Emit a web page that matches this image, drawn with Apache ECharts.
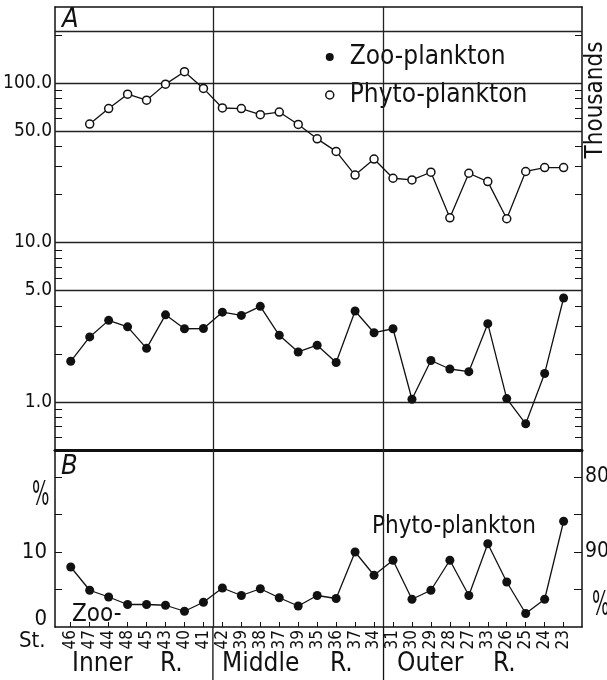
<!DOCTYPE html>
<html>
<head>
<meta charset="utf-8">
<script src="https://cdn.jsdelivr.net/npm/echarts@6/dist/echarts.min.js"></script>
<style>html,body{margin:0;padding:0;background:#fff}#c{width:607px;height:680px}</style>
</head>
<body>
<div id="c"></div>
<script>
// ---- data ----
const stations = ["46","47","44","48","45","43","40","41","42","39","38","37","39","35","36","37","34","31","30","29","28","27","33","26","25","24","23"];
const phytoThousands = [null,55.3,69.2,85.2,78.1,98.5,117.9,92.6,69.8,69.2,63.4,65.8,55.0,44.7,37.3,26.5,33.4,25.3,24.7,27.6,14.3,27.2,24.1,14.1,27.9,29.5,29.5];
const zooThousands = [1.80,2.56,3.25,2.96,2.17,3.52,2.88,2.89,3.66,3.49,3.98,2.62,2.06,2.27,1.77,3.72,2.72,2.88,1.04,1.82,1.61,1.55,3.10,1.05,0.73,1.51,4.49];
const zooPercent = [8.0,4.9,4.0,3.0,3.0,2.9,2.1,3.3,5.2,4.2,5.1,3.9,2.8,4.2,3.8,10.0,6.9,8.9,3.7,4.9,8.9,4.2,11.1,6.0,1.8,3.7,14.1];
const logTickLabels = [1,5,10,50,100];
const logTicks = [0.6,0.7,0.8,0.9,1,2,3,4,5,6,7,8,9,10,20,30,40,50,60,70,80,90,100,200];
const logGridLines = [1,5,10,50,100,210];
const pctTicks = [5,10,15,20];
const pctLabels = [0,10];
const phytoPctTicks = [80,85,90,95];
const phytoPctLabels = [80,90];
const regionBreaks = [7.5,16.5];
const regions = [["Inner",72,"R.",160],["Middle",222,"R.",330],["Outer",397,"R.",493]];

const FONT = '"DejaVu Sans Condensed","Liberation Sans Narrow",sans-serif';
const K = '#111';
const idx = stations.map((s,i)=>i);
const pairs = arr => arr.map((v,i)=>[i,v]);
const XMIN = -0.83, XMAX = 26.97;

const chart = echarts.init(document.getElementById('c'), null, {renderer:'canvas'});
const baseX = (grid, extra) => Object.assign({
  type:'value', gridIndex:grid, min:XMIN, max:XMAX,
  axisLabel:{show:false}, axisTick:{show:false}, splitLine:{show:false},
  axisLine:{show:true, onZero:false, lineStyle:{color:K, width:1.5}}
}, extra);
const yLine = {show:true, onZero:false, lineStyle:{color:K,width:1.5}};

const option = {
  animation:false,
  backgroundColor:'#fff',
  grid:[
    {left:55, right:25, top:7, height:443, outerBoundsMode:'none', containLabel:false},
    {left:55, right:25, top:450, height:177, outerBoundsMode:'none', containLabel:false}
  ],
  xAxis:[
    baseX(0,{position:'top'}),
    baseX(0,{position:'bottom', axisLine:{show:true, onZero:false, lineStyle:{color:K,width:3}}}),
    baseX(1,{position:'bottom',
      axisTick:{show:true, inside:true, length:5, customValues:idx, lineStyle:{color:K,width:1}},
      axisLabel:{show:true, customValues:idx, rotate:90, margin:3, color:K, fontFamily:FONT, fontSize:17,
        formatter:v=>stations[Math.round(v)]}})
  ],
  yAxis:[
    {type:'log', gridIndex:0, position:'left', min:0.5, max:300, logBase:10,
      axisLine:yLine,
      axisTick:{show:true, inside:true, length:7, customValues:logTicks, lineStyle:{color:K}},
      axisLabel:{customValues:logTickLabels, margin:3, color:K, fontFamily:FONT, fontSize:19, formatter:v=>Number(v).toFixed(1)},
      splitLine:{show:false}},
    {type:'log', gridIndex:0, position:'right', min:0.5, max:300, logBase:10,
      axisLine:yLine,
      axisTick:{show:true, inside:true, length:7, customValues:logTicks, lineStyle:{color:K}},
      axisLabel:{show:false}, splitLine:{show:false}},
    {type:'value', gridIndex:1, position:'left', min:0, max:23.6,
      axisLine:yLine,
      axisTick:{show:true, inside:true, length:7, customValues:pctTicks, lineStyle:{color:K}},
      axisLabel:{customValues:pctLabels, margin:8, color:K, fontFamily:FONT, fontSize:22,
        formatter:v=> v===0 ? '{z|0}' : String(v), rich:{z:{fontFamily:FONT,fontSize:22,color:K,padding:[0,0,16,0]}}},
      splitLine:{show:false}},
    {type:'value', gridIndex:1, position:'right', min:76.4, max:100, inverse:true,
      axisLine:yLine,
      axisTick:{show:true, inside:true, length:8, customValues:phytoPctTicks, lineStyle:{color:K}},
      axisLabel:{customValues:phytoPctLabels, margin:3, color:K, fontFamily:FONT, fontSize:21},
      splitLine:{show:false}}
  ],
  legend:{
    orient:'vertical', left:320, top:38, itemGap:10, itemWidth:30, itemHeight:8,
    textStyle:{fontFamily:FONT, fontSize:26, lineHeight:28, color:K},
    data:[{name:'Zoo-plankton', icon:'circle', itemStyle:{color:K, borderWidth:0}},
          {name:'Phyto-plankton', icon:'circle', itemStyle:{color:'#fff', borderColor:K, borderWidth:1.5}}]
  },
  series:[
    {name:'Phyto-plankton', type:'line', xAxisIndex:0, yAxisIndex:0, data:pairs(phytoThousands),
      symbol:'circle', symbolSize:8, connectNulls:false,
      lineStyle:{color:K,width:1.3}, itemStyle:{color:'#fff', borderColor:K, borderWidth:1.5}, z:5},
    {name:'Zoo-plankton', type:'line', xAxisIndex:0, yAxisIndex:0, data:pairs(zooThousands),
      symbol:'circle', symbolSize:9,
      lineStyle:{color:K,width:1.3}, itemStyle:{color:K}, z:5,
      markLine:{silent:true, symbol:'none', label:{show:false},
        lineStyle:{color:'#222', type:'solid', width:1.3},
        data:logGridLines.map(v=>({yAxis:v})).concat(regionBreaks.map(v=>({xAxis:v})))}},
    {name:'Zoo-plankton %', type:'line', xAxisIndex:2, yAxisIndex:2, data:pairs(zooPercent),
      symbol:'circle', symbolSize:9,
      lineStyle:{color:K,width:1.3}, itemStyle:{color:K}, z:5,
      markLine:{silent:true, symbol:'none', label:{show:false},
        lineStyle:{color:'#222', type:'solid', width:1.3},
        data:regionBreaks.map(v=>({xAxis:v}))}}
  ]
};
chart.setOption(option);

const txt = (text,x,y,size,extra) => ({type:'text', x:x, y:y, silent:true,
  style:Object.assign({text:text, fill:K, font:size+'px '+FONT, textAlign:'left', textVerticalAlign:'middle'}, extra||{})});
const g = [
  txt('A',62,20,27,{font:'italic 27px '+FONT}),
  txt('B',61,467,27,{font:'italic 27px '+FONT}),
  Object.assign(txt('Thousands',596,100,24,{textAlign:'center'}),{rotation:Math.PI/2}),
  txt('Phyto-plankton',372,527,24),
  txt('Zoo-',72,615,24),
  Object.assign(txt('%',32,496,34),{scaleX:0.6}),
  Object.assign(txt('%',592,606,34),{scaleX:0.6}),
  txt('St.',19,641,22)
];
regions.forEach(r=>{ g.push(txt(r[0],r[1],664,26)); g.push(txt(r[2],r[3],664,26)); });
regionBreaks.forEach(v=>{
  const px = chart.convertToPixel({xAxisIndex:2}, v);
  g.push({type:'line', silent:true, shape:{x1:px,y1:627,x2:px,y2:680}, style:{stroke:K,lineWidth:1.3}});
});
chart.setOption({graphic:g});
</script>
</body>
</html>
